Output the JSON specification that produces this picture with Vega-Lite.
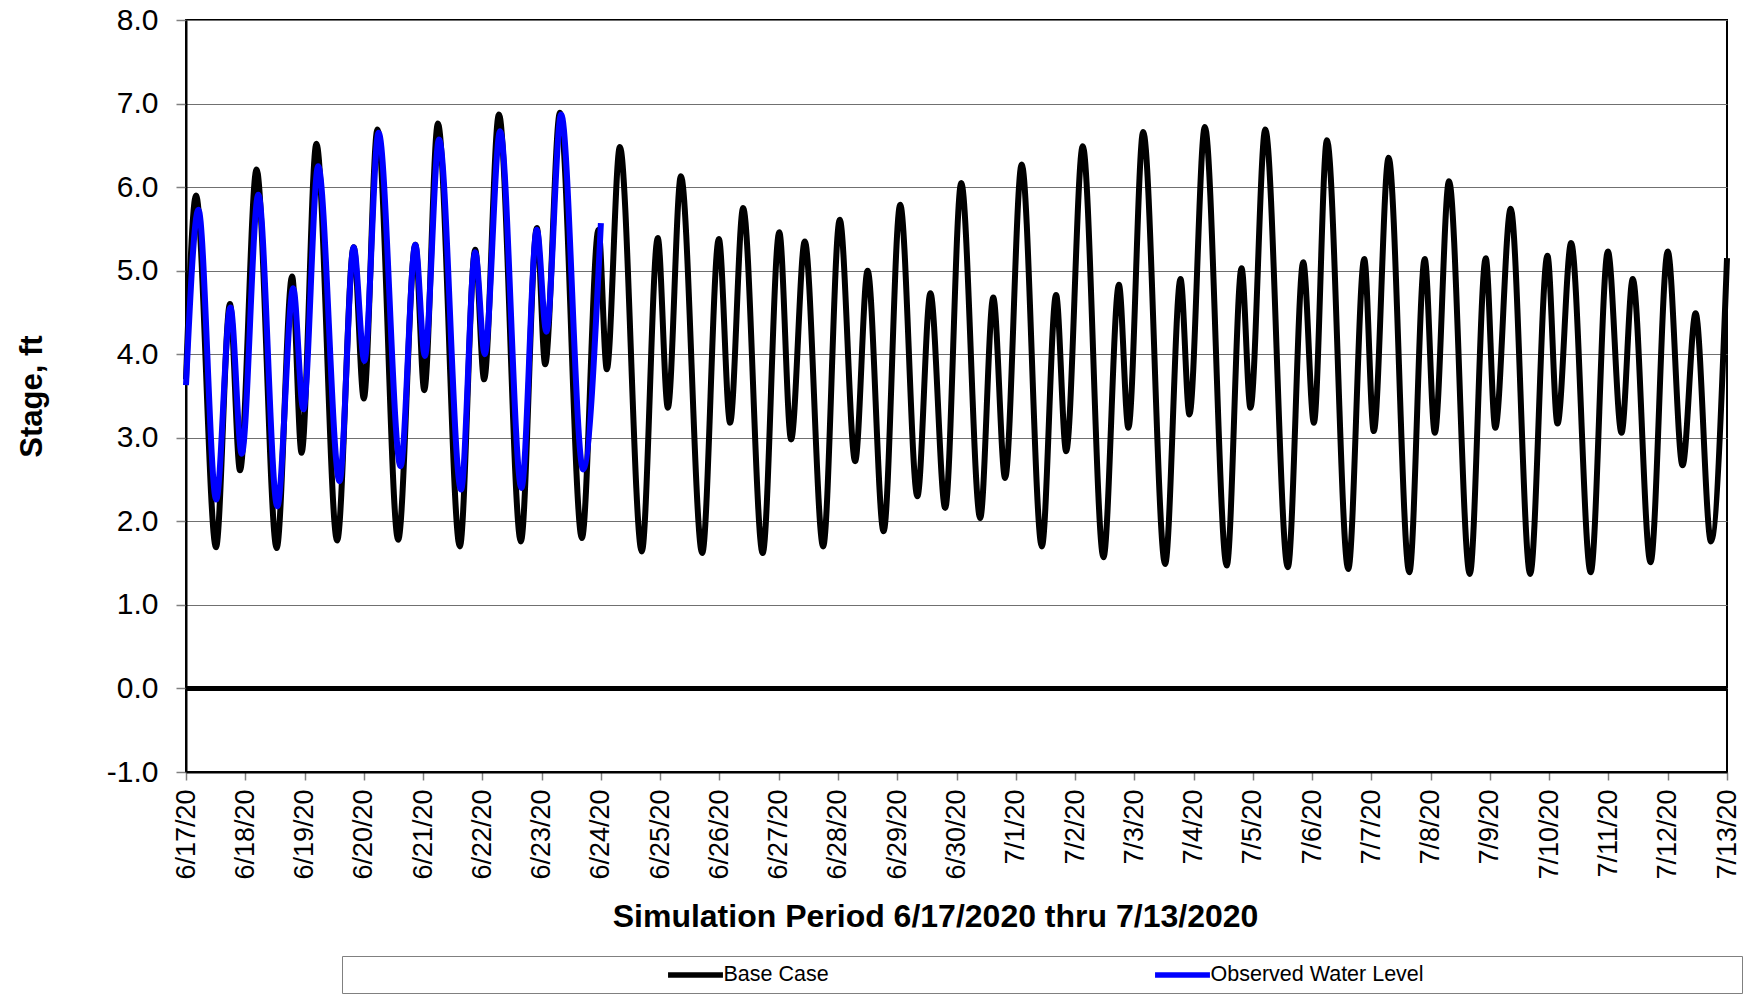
{
  "$schema": "https://vega.github.io/schema/vega-lite/v6.json",
  "width": 1541,
  "height": 752,
  "autosize": {"type": "none"},
  "padding": {"left": 186, "top": 20, "right": 26, "bottom": 222},
  "background": "white",
  "config": {
    "view": {"stroke": "black", "strokeWidth": 2},
    "font": "Liberation Sans",
    "locale": {"number": {"decimal": ".", "thousands": ",", "grouping": [3], "currency": ["$", ""], "minus": "-"}},
    "axis": {"labelFont": "Liberation Sans", "titleFont": "Liberation Sans", "labelColor": "black", "titleColor": "black"}
  },
  "data": {"values": [
    {"time": "2020-06-17T00:00", "series": "Base Case", "stage": 3.70},
    {"time": "2020-06-17T04:04", "series": "Base Case", "stage": 5.90},
    {"time": "2020-06-17T12:09", "series": "Base Case", "stage": 1.69},
    {"time": "2020-06-17T17:48", "series": "Base Case", "stage": 4.60},
    {"time": "2020-06-17T21:52", "series": "Base Case", "stage": 2.61},
    {"time": "2020-06-18T04:34", "series": "Base Case", "stage": 6.21},
    {"time": "2020-06-18T12:43", "series": "Base Case", "stage": 1.68},
    {"time": "2020-06-18T18:58", "series": "Base Case", "stage": 4.93},
    {"time": "2020-06-18T22:48", "series": "Base Case", "stage": 2.82},
    {"time": "2020-06-19T04:48", "series": "Base Case", "stage": 6.52},
    {"time": "2020-06-19T13:12", "series": "Base Case", "stage": 1.77},
    {"time": "2020-06-19T19:55", "series": "Base Case", "stage": 5.28},
    {"time": "2020-06-20T00:00", "series": "Base Case", "stage": 3.47},
    {"time": "2020-06-20T05:31", "series": "Base Case", "stage": 6.69},
    {"time": "2020-06-20T13:55", "series": "Base Case", "stage": 1.78},
    {"time": "2020-06-20T20:53", "series": "Base Case", "stage": 5.31},
    {"time": "2020-06-21T00:29", "series": "Base Case", "stage": 3.57},
    {"time": "2020-06-21T06:00", "series": "Base Case", "stage": 6.76},
    {"time": "2020-06-21T14:53", "series": "Base Case", "stage": 1.70},
    {"time": "2020-06-21T21:07", "series": "Base Case", "stage": 5.25},
    {"time": "2020-06-22T00:43", "series": "Base Case", "stage": 3.70},
    {"time": "2020-06-22T06:43", "series": "Base Case", "stage": 6.87},
    {"time": "2020-06-22T15:36", "series": "Base Case", "stage": 1.76},
    {"time": "2020-06-22T22:05", "series": "Base Case", "stage": 5.51},
    {"time": "2020-06-23T01:26", "series": "Base Case", "stage": 3.88},
    {"time": "2020-06-23T07:26", "series": "Base Case", "stage": 6.89},
    {"time": "2020-06-23T16:19", "series": "Base Case", "stage": 1.80},
    {"time": "2020-06-23T23:02", "series": "Base Case", "stage": 5.49},
    {"time": "2020-06-24T02:24", "series": "Base Case", "stage": 3.82},
    {"time": "2020-06-24T07:41", "series": "Base Case", "stage": 6.48},
    {"time": "2020-06-24T16:34", "series": "Base Case", "stage": 1.64},
    {"time": "2020-06-24T23:02", "series": "Base Case", "stage": 5.39},
    {"time": "2020-06-25T03:07", "series": "Base Case", "stage": 3.36},
    {"time": "2020-06-25T08:24", "series": "Base Case", "stage": 6.13},
    {"time": "2020-06-25T17:02", "series": "Base Case", "stage": 1.62},
    {"time": "2020-06-25T23:46", "series": "Base Case", "stage": 5.38},
    {"time": "2020-06-26T04:19", "series": "Base Case", "stage": 3.18},
    {"time": "2020-06-26T09:36", "series": "Base Case", "stage": 5.75},
    {"time": "2020-06-26T17:31", "series": "Base Case", "stage": 1.62},
    {"time": "2020-06-27T00:14", "series": "Base Case", "stage": 5.46},
    {"time": "2020-06-27T05:02", "series": "Base Case", "stage": 2.98},
    {"time": "2020-06-27T10:34", "series": "Base Case", "stage": 5.35},
    {"time": "2020-06-27T18:00", "series": "Base Case", "stage": 1.70},
    {"time": "2020-06-28T00:43", "series": "Base Case", "stage": 5.61},
    {"time": "2020-06-28T06:58", "series": "Base Case", "stage": 2.72},
    {"time": "2020-06-28T12:00", "series": "Base Case", "stage": 5.00},
    {"time": "2020-06-28T18:29", "series": "Base Case", "stage": 1.88},
    {"time": "2020-06-29T01:12", "series": "Base Case", "stage": 5.79},
    {"time": "2020-06-29T08:10", "series": "Base Case", "stage": 2.30},
    {"time": "2020-06-29T13:26", "series": "Base Case", "stage": 4.73},
    {"time": "2020-06-29T19:26", "series": "Base Case", "stage": 2.16},
    {"time": "2020-06-30T01:55", "series": "Base Case", "stage": 6.05},
    {"time": "2020-06-30T09:36", "series": "Base Case", "stage": 2.04},
    {"time": "2020-06-30T14:53", "series": "Base Case", "stage": 4.68},
    {"time": "2020-06-30T19:41", "series": "Base Case", "stage": 2.52},
    {"time": "2020-07-01T02:24", "series": "Base Case", "stage": 6.27},
    {"time": "2020-07-01T10:34", "series": "Base Case", "stage": 1.70},
    {"time": "2020-07-01T16:19", "series": "Base Case", "stage": 4.71},
    {"time": "2020-07-01T20:24", "series": "Base Case", "stage": 2.84},
    {"time": "2020-07-02T03:07", "series": "Base Case", "stage": 6.49},
    {"time": "2020-07-02T11:31", "series": "Base Case", "stage": 1.57},
    {"time": "2020-07-02T17:46", "series": "Base Case", "stage": 4.83},
    {"time": "2020-07-02T21:36", "series": "Base Case", "stage": 3.12},
    {"time": "2020-07-03T03:36", "series": "Base Case", "stage": 6.66},
    {"time": "2020-07-03T12:29", "series": "Base Case", "stage": 1.49},
    {"time": "2020-07-03T18:43", "series": "Base Case", "stage": 4.90},
    {"time": "2020-07-03T22:19", "series": "Base Case", "stage": 3.28},
    {"time": "2020-07-04T04:34", "series": "Base Case", "stage": 6.72},
    {"time": "2020-07-04T13:26", "series": "Base Case", "stage": 1.47},
    {"time": "2020-07-04T19:26", "series": "Base Case", "stage": 5.03},
    {"time": "2020-07-04T23:02", "series": "Base Case", "stage": 3.36},
    {"time": "2020-07-05T05:02", "series": "Base Case", "stage": 6.69},
    {"time": "2020-07-05T14:10", "series": "Base Case", "stage": 1.45},
    {"time": "2020-07-05T20:24", "series": "Base Case", "stage": 5.10},
    {"time": "2020-07-06T00:43", "series": "Base Case", "stage": 3.18},
    {"time": "2020-07-06T06:00", "series": "Base Case", "stage": 6.56},
    {"time": "2020-07-06T14:38", "series": "Base Case", "stage": 1.43},
    {"time": "2020-07-06T21:07", "series": "Base Case", "stage": 5.14},
    {"time": "2020-07-07T00:58", "series": "Base Case", "stage": 3.08},
    {"time": "2020-07-07T06:58", "series": "Base Case", "stage": 6.35},
    {"time": "2020-07-07T15:22", "series": "Base Case", "stage": 1.39},
    {"time": "2020-07-07T21:36", "series": "Base Case", "stage": 5.14},
    {"time": "2020-07-08T01:41", "series": "Base Case", "stage": 3.06},
    {"time": "2020-07-08T07:26", "series": "Base Case", "stage": 6.07},
    {"time": "2020-07-08T15:50", "series": "Base Case", "stage": 1.37},
    {"time": "2020-07-08T22:19", "series": "Base Case", "stage": 5.15},
    {"time": "2020-07-09T02:10", "series": "Base Case", "stage": 3.12},
    {"time": "2020-07-09T08:24", "series": "Base Case", "stage": 5.74},
    {"time": "2020-07-09T16:19", "series": "Base Case", "stage": 1.37},
    {"time": "2020-07-09T23:17", "series": "Base Case", "stage": 5.18},
    {"time": "2020-07-10T03:22", "series": "Base Case", "stage": 3.17},
    {"time": "2020-07-10T08:53", "series": "Base Case", "stage": 5.33},
    {"time": "2020-07-10T16:48", "series": "Base Case", "stage": 1.39},
    {"time": "2020-07-10T23:46", "series": "Base Case", "stage": 5.23},
    {"time": "2020-07-11T05:17", "series": "Base Case", "stage": 3.06},
    {"time": "2020-07-11T09:50", "series": "Base Case", "stage": 4.90},
    {"time": "2020-07-11T17:02", "series": "Base Case", "stage": 1.51},
    {"time": "2020-07-12T00:00", "series": "Base Case", "stage": 5.23},
    {"time": "2020-07-12T06:00", "series": "Base Case", "stage": 2.67},
    {"time": "2020-07-12T11:17", "series": "Base Case", "stage": 4.49},
    {"time": "2020-07-12T17:31", "series": "Base Case", "stage": 1.76},
    {"time": "2020-07-13T00:00", "series": "Base Case", "stage": 5.15},
    {"time": "2020-06-17T00:00", "series": "Observed Water Level", "stage": 3.63},
    {"time": "2020-06-17T05:02", "series": "Observed Water Level", "stage": 5.73},
    {"time": "2020-06-17T12:14", "series": "Observed Water Level", "stage": 2.26},
    {"time": "2020-06-17T18:00", "series": "Observed Water Level", "stage": 4.56},
    {"time": "2020-06-17T22:34", "series": "Observed Water Level", "stage": 2.81},
    {"time": "2020-06-18T05:17", "series": "Observed Water Level", "stage": 5.91},
    {"time": "2020-06-18T12:58", "series": "Observed Water Level", "stage": 2.18},
    {"time": "2020-06-18T19:26", "series": "Observed Water Level", "stage": 4.79},
    {"time": "2020-06-18T23:31", "series": "Observed Water Level", "stage": 3.34},
    {"time": "2020-06-19T05:31", "series": "Observed Water Level", "stage": 6.25},
    {"time": "2020-06-19T14:10", "series": "Observed Water Level", "stage": 2.48},
    {"time": "2020-06-19T19:55", "series": "Observed Water Level", "stage": 5.28},
    {"time": "2020-06-20T00:14", "series": "Observed Water Level", "stage": 3.92},
    {"time": "2020-06-20T06:00", "series": "Observed Water Level", "stage": 6.65},
    {"time": "2020-06-20T14:53", "series": "Observed Water Level", "stage": 2.66},
    {"time": "2020-06-20T20:53", "series": "Observed Water Level", "stage": 5.31},
    {"time": "2020-06-21T00:43", "series": "Observed Water Level", "stage": 3.98},
    {"time": "2020-06-21T06:29", "series": "Observed Water Level", "stage": 6.57},
    {"time": "2020-06-21T15:22", "series": "Observed Water Level", "stage": 2.38},
    {"time": "2020-06-21T21:07", "series": "Observed Water Level", "stage": 5.22},
    {"time": "2020-06-22T00:58", "series": "Observed Water Level", "stage": 4.00},
    {"time": "2020-06-22T07:12", "series": "Observed Water Level", "stage": 6.67},
    {"time": "2020-06-22T15:50", "series": "Observed Water Level", "stage": 2.40},
    {"time": "2020-06-22T22:05", "series": "Observed Water Level", "stage": 5.49},
    {"time": "2020-06-23T01:55", "series": "Observed Water Level", "stage": 4.27},
    {"time": "2020-06-23T07:55", "series": "Observed Water Level", "stage": 6.87},
    {"time": "2020-06-23T16:48", "series": "Observed Water Level", "stage": 2.62},
    {"time": "2020-06-24T00:00", "series": "Observed Water Level", "stage": 5.57}
  ]},
  "layer": [
    {
      "data": {"values": [{"stage": 0}]},
      "mark": {"type": "rule", "color": "black", "strokeWidth": 5},
      "encoding": {"y": {"field": "stage", "type": "quantitative"}}
    },
    {
      "mark": {"type": "line", "interpolate": "monotone", "strokeWidth": 6},
      "encoding": {
        "x": {
          "field": "time", "type": "temporal",
          "scale": {"domain": [{"year": 2020, "month": 6, "date": 17}, {"year": 2020, "month": 7, "date": 13}], "nice": false},
          "axis": {
            "title": "Simulation Period 6/17/2020 thru 7/13/2020",
            "titleFontSize": 32, "titleFontWeight": "bold", "titlePadding": 22, "titleX": 749,
            "format": "%-m/%-d/%y", "tickCount": {"interval": "day", "step": 1},
            "labelAngle": -90, "labelFontSize": 27, "labelPadding": 9, "labelOverlap": false, "labelFlush": false,
            "tickSize": 8, "tickColor": "#808080", "tickWidth": 1.5,
            "domainColor": "black", "domainWidth": 2, "grid": false
          }
        },
        "y": {
          "field": "stage", "type": "quantitative",
          "scale": {"domain": [-1, 8], "nice": false, "zero": false},
          "axis": {
            "title": "Stage, ft", "titleFontSize": 31, "titleFontWeight": "bold", "titlePadding": 58,
            "values": [-1, 0, 1, 2, 3, 4, 5, 6, 7, 8], "format": ".1f",
            "labelFontSize": 30, "labelPadding": 18,
            "tickSize": 10, "tickColor": "#808080", "tickWidth": 1.5,
            "domainColor": "black", "domainWidth": 2,
            "grid": true, "gridColor": "#707070", "gridWidth": 1.2
          }
        },
        "color": {
          "field": "series", "type": "nominal",
          "scale": {"domain": ["Base Case", "Observed Water Level"], "range": ["#000000", "#0000ff"]},
          "legend": {
            "orient": "none", "legendX": 156, "legendY": 936, "direction": "horizontal",
            "title": "\u00a0", "titleOrient": "left", "titlePadding": 318.5, "titleFontSize": 10,
            "strokeColor": "#808080", "fillColor": "white", "padding": 7,
            "symbolType": "M-3.05,0H3.05", "symbolSize": 324, "symbolStrokeWidth": 5.5, "symbolOffset": 16,
            "labelFont": "Liberation Sans", "labelFontSize": 21.5, "labelColor": "black", "labelOffset": 16,
            "labelLimit": 0, "columnPadding": 314,
            "labelExpr": "datum.label == 'Observed Water Level' ? pad(datum.label, 72, '\u00a0') + '\u200b' : datum.label"
          }
        }
      }
    }
  ]
}
